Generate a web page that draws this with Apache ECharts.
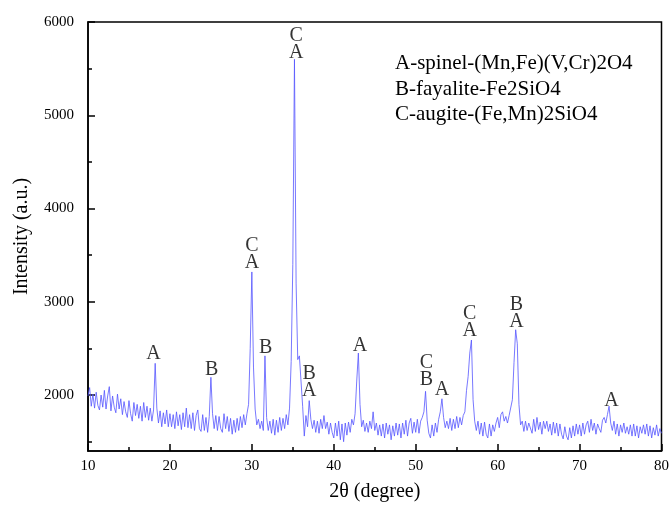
<!DOCTYPE html>
<html>
<head>
<meta charset="utf-8">
<script src="https://cdn.jsdelivr.net/npm/echarts@6/dist/echarts.min.js"></script>
<style>
  html, body { margin: 0; padding: 0; background: #fff; }
  #xrd { width: 672px; height: 507px; }
</style>
</head>
<body>
<div id="xrd"></div>
<script>
// scan: 10 - 80 deg, step 0.2
var scanStart = 10;
var scanStep = 0.2;

// intensity, one row = 2 degrees
var intensity = [
  1990, 2080, 1880, 2010, 1860, 2030, 1890, 1840, 2000, 1870, // 10
  2050, 1850, 1990, 2090, 1830, 1990, 1870, 1810, 2010, 1850, // 12
  1960, 1790, 1930, 1820, 1760, 1940, 1800, 1720, 1920, 1780, // 14
  1900, 1750, 1880, 1720, 1920, 1760, 1880, 1730, 1860, 1720, // 16
  1840, 2340, 1860, 1700, 1830, 1660, 1810, 1690, 1840, 1660, // 18
  1800, 1660, 1790, 1640, 1820, 1670, 1790, 1630, 1810, 1660, // 20
  1860, 1650, 1790, 1640, 1810, 1620, 1780, 1840, 1640, 1610, // 22
  1790, 1620, 1760, 1600, 1770, 2190, 1800, 1640, 1780, 1620, // 24
  1770, 1640, 1600, 1800, 1640, 1770, 1610, 1750, 1580, 1730, // 26
  1600, 1750, 1620, 1770, 1650, 1790, 1680, 1800, 1900, 2500, // 28
  3320, 2300, 1850, 1680, 1740, 1640, 1720, 1620, 2420, 1760, // 30
  1620, 1720, 1590, 1740, 1570, 1730, 1600, 1760, 1620, 1750, // 32
  1640, 1790, 1680, 1860, 2360, 3400, 5600, 3200, 2380, 2420, // 34
  2150, 1880, 1560, 1780, 1660, 1940, 1740, 1640, 1730, 1600, // 36
  1720, 1590, 1740, 1640, 1780, 1640, 1710, 1580, 1700, 1600, // 38
  1540, 1700, 1560, 1720, 1520, 1690, 1500, 1700, 1570, 1710, // 40
  1600, 1740, 1680, 1800, 2150, 2450, 1900, 1660, 1730, 1610, // 42
  1700, 1600, 1720, 1640, 1820, 1620, 1700, 1570, 1680, 1560, // 44
  1690, 1540, 1700, 1580, 1680, 1520, 1670, 1560, 1700, 1570, // 46
  1690, 1540, 1700, 1580, 1730, 1560, 1700, 1750, 1590, 1710, // 48
  1600, 1740, 1590, 1720, 1760, 1820, 2040, 1730, 1590, 1540, // 50
  1680, 1560, 1700, 1600, 1740, 1820, 1960, 1760, 1650, 1720, // 52
  1640, 1750, 1620, 1740, 1640, 1770, 1650, 1760, 1680, 1780, // 54
  1820, 2050, 2200, 2450, 2590, 1950, 1720, 1620, 1720, 1580, // 56
  1700, 1560, 1710, 1580, 1540, 1690, 1560, 1680, 1610, 1700, // 58
  1760, 1650, 1790, 1820, 1720, 1770, 1700, 1780, 1800, 1950, // 60
  2350, 2700, 2550, 1900, 1680, 1720, 1610, 1720, 1620, 1700, // 62
  1720, 1590, 1740, 1610, 1760, 1630, 1710, 1580, 1720, 1640, // 64
  1720, 1610, 1690, 1570, 1710, 1590, 1700, 1560, 1690, 1580, // 66
  1530, 1660, 1560, 1520, 1650, 1540, 1670, 1560, 1690, 1580, // 68
  1680, 1560, 1700, 1580, 1680, 1720, 1600, 1740, 1620, 1700, // 70
  1580, 1690, 1640, 1600, 1730, 1760, 1700, 1790, 1880, 1700, // 72
  1620, 1720, 1580, 1690, 1560, 1680, 1600, 1700, 1590, 1660, // 74
  1580, 1680, 1560, 1690, 1560, 1670, 1540, 1660, 1590, 1680, // 76
  1580, 1690, 1560, 1670, 1540, 1650, 1570, 1680, 1560, 1640, // 78
  1590                                                        // 80
];

// phase letters over the peaks (x, bottom of text, text)
var peakX = [18.0, 25.1, 30.0, 31.7, 35.4, 37.0, 43.2, 51.3, 53.2, 56.6, 62.3, 73.9];
var peakY = [2354, 2182, 3328, 2418, 5580, 1958, 2438, 2068, 1968, 2598, 2698, 1848];
var peakText = ['A', 'B', 'C\nA', 'B', 'C\nA', 'B\nA', 'A', 'C\nB', 'A', 'C\nA', 'B\nA', 'A'];

var legendLines = [
  'A-spinel-(Mn,Fe)(V,Cr)2O4',
  'B-fayalite-Fe2SiO4',
  'C-augite-(Fe,Mn)2SiO4'
];

var majorY = [2000, 3000, 4000, 5000, 6000];
var minorY = [1500, 2500, 3500, 4500, 5500];

var serif = 'Liberation Serif';

var pattern = [];
for (var i = 0; i < intensity.length; i++) {
  pattern.push([+(scanStart + i * scanStep).toFixed(1), intensity[i]]);
}

var marks = [];
for (var j = 0; j < peakX.length; j++) {
  marks.push({ value: [peakX[j], peakY[j]], name: peakText[j] });
}

var myChart = echarts.init(document.getElementById('xrd'), null, { renderer: 'canvas' });

var option = {
  animation: false,
  backgroundColor: '#fff',
  grid: {
    left: 88, right: 9, top: 22, bottom: 55,
    show: true, borderColor: '#000', borderWidth: 1.5
  },
  xAxis: {
    type: 'value',
    min: 10, max: 80, interval: 10,
    name: '2\u03b8 (degree)',
    nameLocation: 'middle',
    nameGap: 31,
    nameTextStyle: { fontFamily: serif, fontSize: 20, color: '#000' },
    axisLine: { lineStyle: { color: '#000', width: 1.5 } },
    axisTick: { inside: true, length: 7, lineStyle: { color: '#000', width: 1.5 } },
    minorTick: { show: true, splitNumber: 2, length: 4, lineStyle: { color: '#000', width: 1.5 } },
    axisLabel: { fontFamily: serif, fontSize: 15, color: '#000', margin: 8 },
    splitLine: { show: false }
  },
  yAxis: [
    {
      type: 'value',
      min: 1400, max: 6000,
      name: 'Intensity (a.u.)',
      nameLocation: 'middle',
      nameGap: 56,
      nameTextStyle: { fontFamily: serif, fontSize: 20, color: '#000' },
      axisLine: { show: true, lineStyle: { color: '#000', width: 1.5 } },
      axisTick: { inside: true, length: 7, customValues: majorY, lineStyle: { color: '#000', width: 1.5 } },
      axisLabel: {
        customValues: majorY,
        formatter: function (v) { return String(v); },
        fontFamily: serif, fontSize: 15, color: '#000', margin: 14
      },
      splitLine: { show: false }
    },
    {
      type: 'value',
      min: 1400, max: 6000,
      position: 'left',
      axisLine: { show: false },
      axisTick: { show: true, inside: true, length: 4, customValues: minorY, lineStyle: { color: '#000', width: 1.5 } },
      axisLabel: { show: false },
      splitLine: { show: false }
    }
  ],
  graphic: legendLines.map(function (t, k) {
    return {
      type: 'text', left: 395, top: 53 + k * 25.5,
      style: { text: t, font: '21px "Liberation Serif"', fill: '#000' }
    };
  }),
  series: [
    {
      name: 'XRD',
      type: 'line',
      data: pattern,
      showSymbol: false,
      lineStyle: { color: '#5555ff', width: 0.8 },
      z: 2
    },
    {
      name: 'phases',
      type: 'scatter',
      data: marks,
      symbolSize: 0,
      silent: true,
      label: {
        show: true,
        position: 'top',
        distance: 0,
        formatter: '{b}',
        fontFamily: serif,
        fontSize: 20,
        lineHeight: 17,
        color: '#000'
      },
      z: 3
    }
  ]
};

myChart.setOption(option);
</script>
</body>
</html>
